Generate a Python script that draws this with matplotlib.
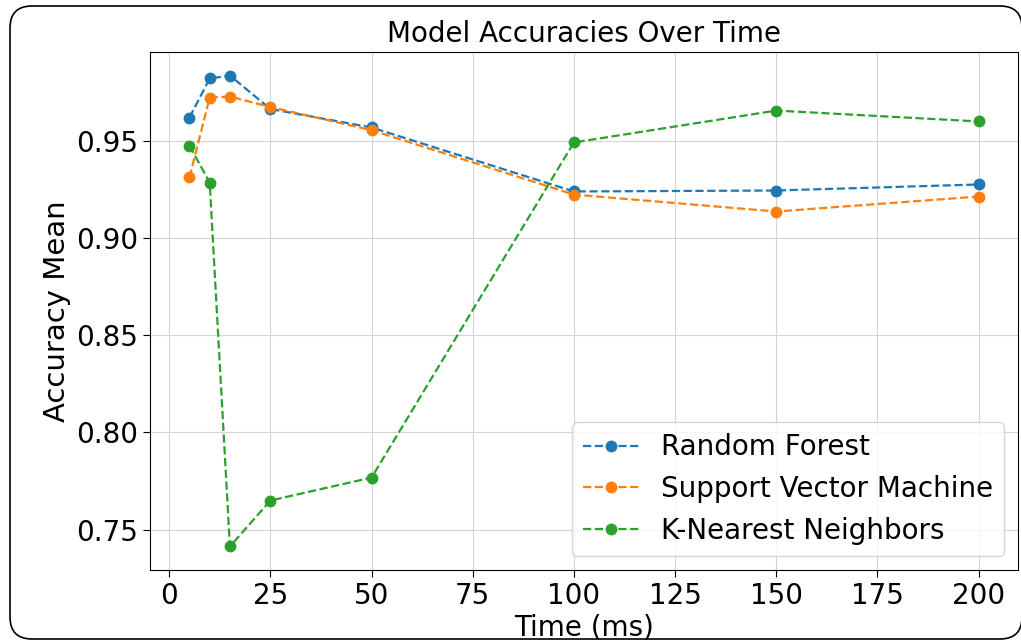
import matplotlib.pyplot as plt
from matplotlib.patches import FancyBboxPatch

times = [5, 10, 15, 25, 50, 100, 150, 200]
rf_acc = [0.9618, 0.9819, 0.9834, 0.9662, 0.9567, 0.9238, 0.9243, 0.9274]
svm_acc = [0.9310, 0.9721, 0.9726, 0.9672, 0.9553, 0.9222, 0.9135, 0.9212]
knn_acc = [0.9474, 0.9284, 0.7413, 0.7649, 0.7767, 0.9490, 0.9654, 0.9598]
model_names = ['Random Forest', 'Support Vector Machine', 'K-Nearest Neighbors']

fig = plt.figure(figsize=(10.21, 6.41), dpi=100)
ax = fig.add_axes([150/1021, 1 - 570/641, (1018-150)/1021, (570-52)/641])

for acc, name in zip([rf_acc, svm_acc, knn_acc], model_names):
    ax.plot(times, acc, linestyle='--', marker='o', markersize=7.5, linewidth=1.6, label=name)

ax.set_title('Model Accuracies Over Time', fontsize=20, pad=7)
ax.set_xlabel('Time (ms)', fontsize=20, labelpad=3)
ax.set_ylabel('Accuracy Mean', fontsize=21)
ax.tick_params(labelsize=20, length=5)
ax.grid(True, color='#d4d4d4')
ax.legend(loc='lower right', fontsize=20)

# rounded frame of the screenshot (right edge runs just past the image)
border = FancyBboxPatch((0.10, 0.02), 10.12, 6.33,
                        boxstyle='round,pad=0,rounding_size=0.22',
                        transform=fig.dpi_scale_trans, fill=False, edgecolor='black',
                        linewidth=1.2, clip_on=False)
fig.patches.append(border)

fig.savefig('out.png', dpi=100)
